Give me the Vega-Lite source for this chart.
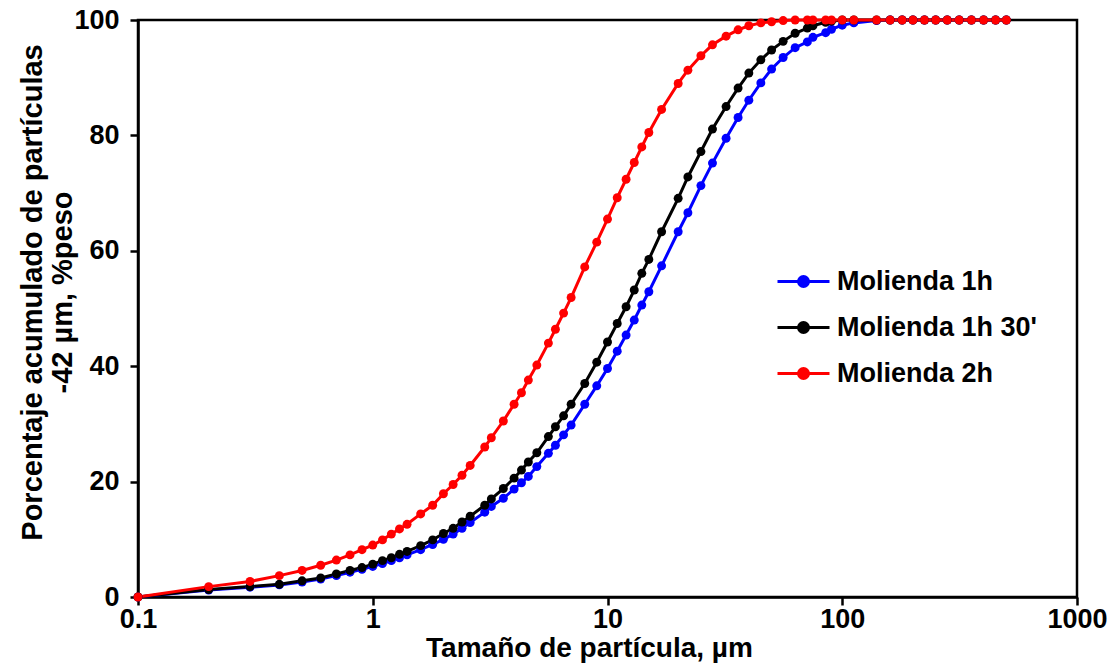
{
  "$schema": "https://vega.github.io/schema/vega-lite/v6.json",
  "width": 939,
  "height": 577,
  "autosize": {"type": "none"},
  "padding": {"left": 138, "top": 20, "right": 34, "bottom": 66},
  "background": "white",
  "config": {"view": {"stroke": "black", "strokeWidth": 2.5}, "font": "Liberation Sans"},
  "data": {"values": [
    {"serie": "Molienda 1h", "tam": 0.1, "pct": 0},
    {"serie": "Molienda 1h", "tam": 0.2, "pct": 1.2},
    {"serie": "Molienda 1h", "tam": 0.3, "pct": 1.7},
    {"serie": "Molienda 1h", "tam": 0.4, "pct": 2.1},
    {"serie": "Molienda 1h", "tam": 0.5, "pct": 2.6},
    {"serie": "Molienda 1h", "tam": 0.6, "pct": 3.1},
    {"serie": "Molienda 1h", "tam": 0.7, "pct": 3.7},
    {"serie": "Molienda 1h", "tam": 0.8, "pct": 4.3},
    {"serie": "Molienda 1h", "tam": 0.9, "pct": 4.8},
    {"serie": "Molienda 1h", "tam": 1.0, "pct": 5.3},
    {"serie": "Molienda 1h", "tam": 1.1, "pct": 5.8},
    {"serie": "Molienda 1h", "tam": 1.2, "pct": 6.3},
    {"serie": "Molienda 1h", "tam": 1.3, "pct": 6.8},
    {"serie": "Molienda 1h", "tam": 1.4, "pct": 7.3},
    {"serie": "Molienda 1h", "tam": 1.6, "pct": 8.2},
    {"serie": "Molienda 1h", "tam": 1.8, "pct": 9.1},
    {"serie": "Molienda 1h", "tam": 2.0, "pct": 10.0},
    {"serie": "Molienda 1h", "tam": 2.2, "pct": 10.9},
    {"serie": "Molienda 1h", "tam": 2.4, "pct": 11.9},
    {"serie": "Molienda 1h", "tam": 2.6, "pct": 12.9},
    {"serie": "Molienda 1h", "tam": 3.0, "pct": 14.7},
    {"serie": "Molienda 1h", "tam": 3.2, "pct": 15.7},
    {"serie": "Molienda 1h", "tam": 3.6, "pct": 17.1},
    {"serie": "Molienda 1h", "tam": 4.0, "pct": 18.7},
    {"serie": "Molienda 1h", "tam": 4.3, "pct": 19.8},
    {"serie": "Molienda 1h", "tam": 4.6, "pct": 20.9},
    {"serie": "Molienda 1h", "tam": 5.0, "pct": 22.6},
    {"serie": "Molienda 1h", "tam": 5.6, "pct": 24.9},
    {"serie": "Molienda 1h", "tam": 6.0, "pct": 26.3},
    {"serie": "Molienda 1h", "tam": 6.5, "pct": 28.1},
    {"serie": "Molienda 1h", "tam": 7.0, "pct": 29.8},
    {"serie": "Molienda 1h", "tam": 8, "pct": 33.4},
    {"serie": "Molienda 1h", "tam": 9, "pct": 36.6},
    {"serie": "Molienda 1h", "tam": 10, "pct": 39.6},
    {"serie": "Molienda 1h", "tam": 11, "pct": 42.6},
    {"serie": "Molienda 1h", "tam": 12, "pct": 45.4},
    {"serie": "Molienda 1h", "tam": 13, "pct": 48.0},
    {"serie": "Molienda 1h", "tam": 14, "pct": 50.6},
    {"serie": "Molienda 1h", "tam": 15, "pct": 52.9},
    {"serie": "Molienda 1h", "tam": 17, "pct": 57.4},
    {"serie": "Molienda 1h", "tam": 20, "pct": 63.3},
    {"serie": "Molienda 1h", "tam": 22, "pct": 66.6},
    {"serie": "Molienda 1h", "tam": 25, "pct": 71.3},
    {"serie": "Molienda 1h", "tam": 28, "pct": 75.2},
    {"serie": "Molienda 1h", "tam": 32, "pct": 79.5},
    {"serie": "Molienda 1h", "tam": 36, "pct": 83.1},
    {"serie": "Molienda 1h", "tam": 40, "pct": 86.1},
    {"serie": "Molienda 1h", "tam": 45, "pct": 89.1},
    {"serie": "Molienda 1h", "tam": 50, "pct": 91.5},
    {"serie": "Molienda 1h", "tam": 56, "pct": 93.5},
    {"serie": "Molienda 1h", "tam": 63, "pct": 95.2},
    {"serie": "Molienda 1h", "tam": 71, "pct": 96.2},
    {"serie": "Molienda 1h", "tam": 75, "pct": 97.0},
    {"serie": "Molienda 1h", "tam": 85, "pct": 97.8},
    {"serie": "Molienda 1h", "tam": 90, "pct": 98.4},
    {"serie": "Molienda 1h", "tam": 100, "pct": 99.1},
    {"serie": "Molienda 1h", "tam": 112, "pct": 99.5},
    {"serie": "Molienda 1h", "tam": 140, "pct": 99.9},
    {"serie": "Molienda 1h", "tam": 160, "pct": 100},
    {"serie": "Molienda 1h", "tam": 180, "pct": 100},
    {"serie": "Molienda 1h", "tam": 200, "pct": 100},
    {"serie": "Molienda 1h", "tam": 224, "pct": 100},
    {"serie": "Molienda 1h", "tam": 250, "pct": 100},
    {"serie": "Molienda 1h", "tam": 280, "pct": 100},
    {"serie": "Molienda 1h", "tam": 315, "pct": 100},
    {"serie": "Molienda 1h", "tam": 355, "pct": 100},
    {"serie": "Molienda 1h", "tam": 400, "pct": 100},
    {"serie": "Molienda 1h", "tam": 450, "pct": 100},
    {"serie": "Molienda 1h", "tam": 500, "pct": 100},
    {"serie": "Molienda 1h 30'", "tam": 0.1, "pct": 0},
    {"serie": "Molienda 1h 30'", "tam": 0.2, "pct": 1.3},
    {"serie": "Molienda 1h 30'", "tam": 0.3, "pct": 1.8},
    {"serie": "Molienda 1h 30'", "tam": 0.4, "pct": 2.2},
    {"serie": "Molienda 1h 30'", "tam": 0.5, "pct": 2.8},
    {"serie": "Molienda 1h 30'", "tam": 0.6, "pct": 3.3},
    {"serie": "Molienda 1h 30'", "tam": 0.7, "pct": 4.0},
    {"serie": "Molienda 1h 30'", "tam": 0.8, "pct": 4.6},
    {"serie": "Molienda 1h 30'", "tam": 0.9, "pct": 5.1},
    {"serie": "Molienda 1h 30'", "tam": 1.0, "pct": 5.7},
    {"serie": "Molienda 1h 30'", "tam": 1.1, "pct": 6.3},
    {"serie": "Molienda 1h 30'", "tam": 1.2, "pct": 6.8},
    {"serie": "Molienda 1h 30'", "tam": 1.3, "pct": 7.4},
    {"serie": "Molienda 1h 30'", "tam": 1.4, "pct": 7.9},
    {"serie": "Molienda 1h 30'", "tam": 1.6, "pct": 8.9},
    {"serie": "Molienda 1h 30'", "tam": 1.8, "pct": 9.9},
    {"serie": "Molienda 1h 30'", "tam": 2.0, "pct": 11.0},
    {"serie": "Molienda 1h 30'", "tam": 2.2, "pct": 11.9},
    {"serie": "Molienda 1h 30'", "tam": 2.4, "pct": 13.0},
    {"serie": "Molienda 1h 30'", "tam": 2.6, "pct": 14.0},
    {"serie": "Molienda 1h 30'", "tam": 3.0, "pct": 15.9},
    {"serie": "Molienda 1h 30'", "tam": 3.2, "pct": 17.0},
    {"serie": "Molienda 1h 30'", "tam": 3.6, "pct": 18.8},
    {"serie": "Molienda 1h 30'", "tam": 4.0, "pct": 20.6},
    {"serie": "Molienda 1h 30'", "tam": 4.3, "pct": 22.0},
    {"serie": "Molienda 1h 30'", "tam": 4.6, "pct": 23.4},
    {"serie": "Molienda 1h 30'", "tam": 5.0, "pct": 25.0},
    {"serie": "Molienda 1h 30'", "tam": 5.6, "pct": 27.8},
    {"serie": "Molienda 1h 30'", "tam": 6.0, "pct": 29.5},
    {"serie": "Molienda 1h 30'", "tam": 6.5, "pct": 31.4},
    {"serie": "Molienda 1h 30'", "tam": 7.0, "pct": 33.4},
    {"serie": "Molienda 1h 30'", "tam": 8, "pct": 37.0},
    {"serie": "Molienda 1h 30'", "tam": 9, "pct": 40.7},
    {"serie": "Molienda 1h 30'", "tam": 10, "pct": 44.2},
    {"serie": "Molienda 1h 30'", "tam": 11, "pct": 47.4},
    {"serie": "Molienda 1h 30'", "tam": 12, "pct": 50.3},
    {"serie": "Molienda 1h 30'", "tam": 13, "pct": 53.2},
    {"serie": "Molienda 1h 30'", "tam": 14, "pct": 56.1},
    {"serie": "Molienda 1h 30'", "tam": 15, "pct": 58.5},
    {"serie": "Molienda 1h 30'", "tam": 17, "pct": 63.3},
    {"serie": "Molienda 1h 30'", "tam": 20, "pct": 69.1},
    {"serie": "Molienda 1h 30'", "tam": 22, "pct": 72.8},
    {"serie": "Molienda 1h 30'", "tam": 25, "pct": 77.2},
    {"serie": "Molienda 1h 30'", "tam": 28, "pct": 81.1},
    {"serie": "Molienda 1h 30'", "tam": 32, "pct": 85.0},
    {"serie": "Molienda 1h 30'", "tam": 36, "pct": 88.2},
    {"serie": "Molienda 1h 30'", "tam": 40, "pct": 90.8},
    {"serie": "Molienda 1h 30'", "tam": 45, "pct": 93.1},
    {"serie": "Molienda 1h 30'", "tam": 50, "pct": 94.8},
    {"serie": "Molienda 1h 30'", "tam": 56, "pct": 96.3},
    {"serie": "Molienda 1h 30'", "tam": 63, "pct": 97.7},
    {"serie": "Molienda 1h 30'", "tam": 71, "pct": 98.6},
    {"serie": "Molienda 1h 30'", "tam": 75, "pct": 99.0},
    {"serie": "Molienda 1h 30'", "tam": 85, "pct": 99.6},
    {"serie": "Molienda 1h 30'", "tam": 90, "pct": 99.8},
    {"serie": "Molienda 1h 30'", "tam": 100, "pct": 100},
    {"serie": "Molienda 1h 30'", "tam": 112, "pct": 100},
    {"serie": "Molienda 1h 30'", "tam": 140, "pct": 100},
    {"serie": "Molienda 1h 30'", "tam": 160, "pct": 100},
    {"serie": "Molienda 1h 30'", "tam": 180, "pct": 100},
    {"serie": "Molienda 1h 30'", "tam": 200, "pct": 100},
    {"serie": "Molienda 1h 30'", "tam": 224, "pct": 100},
    {"serie": "Molienda 1h 30'", "tam": 250, "pct": 100},
    {"serie": "Molienda 1h 30'", "tam": 280, "pct": 100},
    {"serie": "Molienda 1h 30'", "tam": 315, "pct": 100},
    {"serie": "Molienda 1h 30'", "tam": 355, "pct": 100},
    {"serie": "Molienda 1h 30'", "tam": 400, "pct": 100},
    {"serie": "Molienda 1h 30'", "tam": 450, "pct": 100},
    {"serie": "Molienda 1h 30'", "tam": 500, "pct": 100},
    {"serie": "Molienda 2h", "tam": 0.1, "pct": 0},
    {"serie": "Molienda 2h", "tam": 0.2, "pct": 1.8},
    {"serie": "Molienda 2h", "tam": 0.3, "pct": 2.7},
    {"serie": "Molienda 2h", "tam": 0.4, "pct": 3.7},
    {"serie": "Molienda 2h", "tam": 0.5, "pct": 4.6},
    {"serie": "Molienda 2h", "tam": 0.6, "pct": 5.5},
    {"serie": "Molienda 2h", "tam": 0.7, "pct": 6.4},
    {"serie": "Molienda 2h", "tam": 0.8, "pct": 7.3},
    {"serie": "Molienda 2h", "tam": 0.9, "pct": 8.2},
    {"serie": "Molienda 2h", "tam": 1.0, "pct": 9.0},
    {"serie": "Molienda 2h", "tam": 1.1, "pct": 9.9},
    {"serie": "Molienda 2h", "tam": 1.2, "pct": 10.9},
    {"serie": "Molienda 2h", "tam": 1.3, "pct": 11.8},
    {"serie": "Molienda 2h", "tam": 1.4, "pct": 12.6},
    {"serie": "Molienda 2h", "tam": 1.6, "pct": 14.4},
    {"serie": "Molienda 2h", "tam": 1.8, "pct": 15.9},
    {"serie": "Molienda 2h", "tam": 2.0, "pct": 17.9},
    {"serie": "Molienda 2h", "tam": 2.2, "pct": 19.5},
    {"serie": "Molienda 2h", "tam": 2.4, "pct": 21.1},
    {"serie": "Molienda 2h", "tam": 2.6, "pct": 22.8},
    {"serie": "Molienda 2h", "tam": 3.0, "pct": 26.0},
    {"serie": "Molienda 2h", "tam": 3.2, "pct": 27.6},
    {"serie": "Molienda 2h", "tam": 3.6, "pct": 30.5},
    {"serie": "Molienda 2h", "tam": 4.0, "pct": 33.4},
    {"serie": "Molienda 2h", "tam": 4.3, "pct": 35.4},
    {"serie": "Molienda 2h", "tam": 4.6, "pct": 37.6},
    {"serie": "Molienda 2h", "tam": 5.0, "pct": 40.2},
    {"serie": "Molienda 2h", "tam": 5.6, "pct": 44.0},
    {"serie": "Molienda 2h", "tam": 6.0, "pct": 46.4},
    {"serie": "Molienda 2h", "tam": 6.5, "pct": 49.2},
    {"serie": "Molienda 2h", "tam": 7.0, "pct": 51.9},
    {"serie": "Molienda 2h", "tam": 8, "pct": 57.2},
    {"serie": "Molienda 2h", "tam": 9, "pct": 61.5},
    {"serie": "Molienda 2h", "tam": 10, "pct": 65.5},
    {"serie": "Molienda 2h", "tam": 11, "pct": 69.2},
    {"serie": "Molienda 2h", "tam": 12, "pct": 72.4},
    {"serie": "Molienda 2h", "tam": 13, "pct": 75.3},
    {"serie": "Molienda 2h", "tam": 14, "pct": 78.0},
    {"serie": "Molienda 2h", "tam": 15, "pct": 80.5},
    {"serie": "Molienda 2h", "tam": 17, "pct": 84.5},
    {"serie": "Molienda 2h", "tam": 20, "pct": 89.0},
    {"serie": "Molienda 2h", "tam": 22, "pct": 91.3},
    {"serie": "Molienda 2h", "tam": 25, "pct": 93.8},
    {"serie": "Molienda 2h", "tam": 28, "pct": 95.7},
    {"serie": "Molienda 2h", "tam": 32, "pct": 97.2},
    {"serie": "Molienda 2h", "tam": 36, "pct": 98.3},
    {"serie": "Molienda 2h", "tam": 40, "pct": 99.0},
    {"serie": "Molienda 2h", "tam": 45, "pct": 99.5},
    {"serie": "Molienda 2h", "tam": 50, "pct": 99.7},
    {"serie": "Molienda 2h", "tam": 56, "pct": 99.9},
    {"serie": "Molienda 2h", "tam": 63, "pct": 100},
    {"serie": "Molienda 2h", "tam": 71, "pct": 100},
    {"serie": "Molienda 2h", "tam": 75, "pct": 100},
    {"serie": "Molienda 2h", "tam": 85, "pct": 100},
    {"serie": "Molienda 2h", "tam": 90, "pct": 100},
    {"serie": "Molienda 2h", "tam": 100, "pct": 100},
    {"serie": "Molienda 2h", "tam": 112, "pct": 100},
    {"serie": "Molienda 2h", "tam": 140, "pct": 100},
    {"serie": "Molienda 2h", "tam": 160, "pct": 100},
    {"serie": "Molienda 2h", "tam": 180, "pct": 100},
    {"serie": "Molienda 2h", "tam": 200, "pct": 100},
    {"serie": "Molienda 2h", "tam": 224, "pct": 100},
    {"serie": "Molienda 2h", "tam": 250, "pct": 100},
    {"serie": "Molienda 2h", "tam": 280, "pct": 100},
    {"serie": "Molienda 2h", "tam": 315, "pct": 100},
    {"serie": "Molienda 2h", "tam": 355, "pct": 100},
    {"serie": "Molienda 2h", "tam": 400, "pct": 100},
    {"serie": "Molienda 2h", "tam": 450, "pct": 100},
    {"serie": "Molienda 2h", "tam": 500, "pct": 100}
  ]},
  "mark": {"type": "line", "strokeWidth": 3, "point": {"filled": true, "size": 80}},
  "encoding": {
    "x": {
      "field": "tam", "type": "quantitative",
      "scale": {"type": "log", "domain": [0.1, 1000], "nice": false},
      "axis": {
        "values": [0.1, 1, 10, 100, 1000], "format": "~g",
        "title": "Tamaño de partícula, µm",
        "titleFont": "Liberation Sans", "titleFontSize": 28, "titleFontWeight": "bold", "titleColor": "black",
        "titlePadding": 2, "titleX": 451,
        "labelFont": "Liberation Sans", "labelFontSize": 27, "labelFontWeight": "bold", "labelColor": "black",
        "labelPadding": 1, "labelFlush": false, "labelOverlap": false,
        "tickSize": 8, "tickWidth": 2.5, "tickColor": "black",
        "domainColor": "black", "domainWidth": 2.5, "grid": false
      }
    },
    "y": {
      "field": "pct", "type": "quantitative",
      "scale": {"domain": [0, 100], "nice": false},
      "axis": {
        "values": [0, 20, 40, 60, 80, 100],
        "title": ["Porcentaje acumulado de partículas", "-42 µm, %peso"],
        "titleFont": "Liberation Sans", "titleFontSize": 29, "titleFontWeight": "bold", "titleColor": "black",
        "titleLineHeight": 30, "titleX": -91, "titleY": 272, "titleAngle": -90, "titleAlign": "center", "titleBaseline": "bottom",
        "labelFont": "Liberation Sans", "labelFontSize": 27, "labelFontWeight": "bold", "labelColor": "black",
        "labelPadding": 11,
        "tickSize": 8, "tickWidth": 2.5, "tickColor": "black",
        "domainColor": "black", "domainWidth": 2.5, "grid": false
      }
    },
    "color": {
      "field": "serie", "type": "nominal",
      "scale": {"domain": ["Molienda 1h", "Molienda 1h 30'", "Molienda 2h"], "range": ["#0000FF", "#000000", "#FF0000"]},
      "legend": {
        "title": null, "orient": "none", "legendX": 644, "legendY": 240,
        "symbolType": "M-1.3,0L1.3,0M-0.25,0A0.25,0.25 0 1,0 0.25,0A0.25,0.25 0 1,0 -0.25,0Z",
        "symbolSize": 1600, "symbolStrokeWidth": 3,
        "labelFont": "Liberation Sans", "labelFontSize": 27, "labelFontWeight": "bold", "labelColor": "black",
        "labelOffset": 12, "rowPadding": 11, "padding": 0, "labelLimit": 400,
        "encode": {"symbols": {"update": {"fill": {"scale": "color", "field": "value"}, "stroke": {"scale": "color", "field": "value"}, "opacity": {"value": 1}}}}
      }
    }
  }
}
